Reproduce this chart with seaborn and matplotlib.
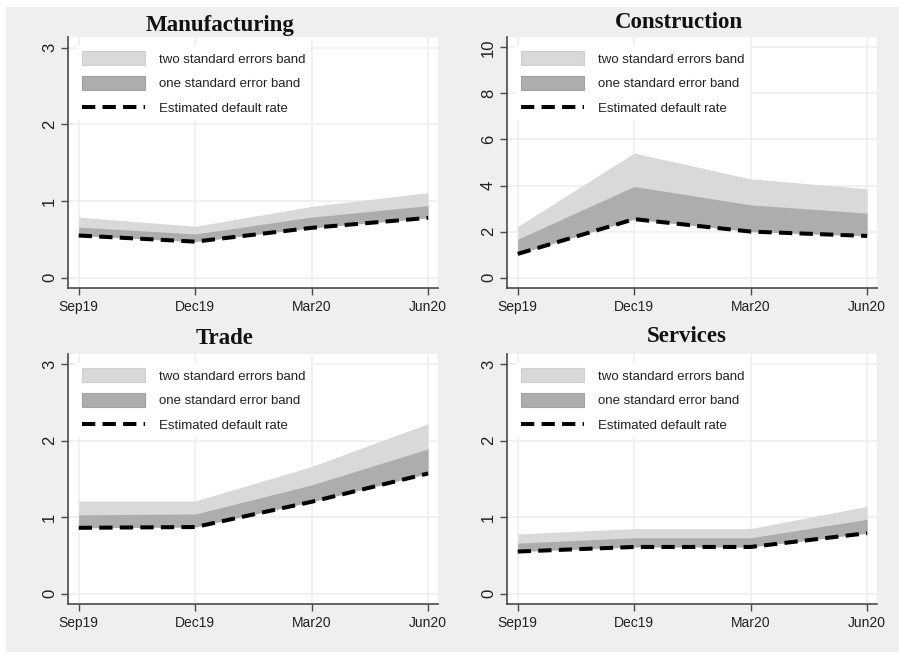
import numpy as np
import pandas as pd
import matplotlib
matplotlib.use("Agg")
import matplotlib.pyplot as plt
from matplotlib.patches import Patch, Rectangle
from matplotlib.lines import Line2D
import seaborn as sns

# Quarters on the horizontal axis
quarters = ["Sep19", "Dec19", "Mar20", "Jun20"]

# Estimated default rates (%) and upper edges of the error bands
manufacturing_est = [0.55, 0.47, 0.65, 0.78]
manufacturing_one_se = [0.66, 0.57, 0.79, 0.94]
manufacturing_two_se = [0.79, 0.67, 0.93, 1.11]

construction_est = [1.03, 2.54, 2.00, 1.81]
construction_one_se = [1.67, 3.96, 3.16, 2.80]
construction_two_se = [2.22, 5.41, 4.29, 3.86]

trade_est = [0.86, 0.87, 1.20, 1.57]
trade_one_se = [1.03, 1.04, 1.42, 1.89]
trade_two_se = [1.21, 1.21, 1.66, 2.22]

services_est = [0.55, 0.61, 0.61, 0.79]
services_one_se = [0.66, 0.73, 0.73, 0.97]
services_two_se = [0.78, 0.85, 0.85, 1.14]

sectors = ["Manufacturing", "Construction", "Trade", "Services"]
legend_labels = ["two standard errors band", "one standard error band",
                 "Estimated default rate"]

panels = {
    "Manufacturing": (manufacturing_est, manufacturing_one_se, manufacturing_two_se),
    "Construction": (construction_est, construction_one_se, construction_two_se),
    "Trade": (trade_est, trade_one_se, trade_two_se),
    "Services": (services_est, services_one_se, services_two_se),
}

sns.set_theme(style="whitegrid")
plt.rcParams["font.family"] = ["Liberation Sans", "DejaVu Sans"]

W, H = 899, 654
fig = plt.figure(figsize=(W / 100, H / 100), dpi=100, facecolor="white")

# light grey graph region
fig.add_artist(Rectangle((6 / W, 2 / H), 1 - 6 / W, 1 - 9 / H, transform=fig.transFigure,
                         facecolor="#efefef", edgecolor="none", zorder=0))

LIGHT = "#d9d9d9"
DARK = "#adadad"
SPINE = "#4a4a4a"
GRID = "#ededed"

# axes boxes in pixels: left, top, right, bottom
boxes = {
    "Manufacturing": (68, 37, 438, 288),
    "Construction": (507, 37, 877, 288),
    "Trade": (68, 354, 438, 604),
    "Services": (507, 354, 877, 604),
}
titles_pos = {
    "Manufacturing": (220, 30.5),
    "Construction": (679, 28),
    "Trade": (225, 344),
    "Services": (687, 342.5),
}
ylims = {
    "Manufacturing": ((-0.135, 3.14), [0, 1, 2, 3]),
    "Construction": ((-0.45, 10.45), [0, 2, 4, 6, 8, 10]),
    "Trade": ((-0.135, 3.13), [0, 1, 2, 3]),
    "Services": ((-0.135, 3.13), [0, 1, 2, 3]),
}

x = np.arange(len(quarters))
FS = 9.5

for name in sectors:
    est, one, two = panels[name]
    l, t, r, b = boxes[name]
    ax = fig.add_axes([l / W, 1 - b / H, (r - l) / W, (b - t) / H], zorder=2)
    ax.set_facecolor("white")

    df = pd.DataFrame({"quarter": x, "rate": est})
    ax.fill_between(x, est, two, color=LIGHT, linewidth=0, zorder=2)
    ax.fill_between(x, est, one, color=DARK, linewidth=0, zorder=3)
    sns.lineplot(data=df, x="quarter", y="rate", ax=ax, color="black",
                 linewidth=2.9, linestyle=(0, (3.3, 1.8)), zorder=4,
                 legend=False)

    (y0, y1), yt = ylims[name]
    ax.set_xlim(-0.092, 3.085)
    ax.set_ylim(y0, y1)
    ax.set_xticks(x)
    ax.set_xticklabels(quarters)
    ax.set_yticks(yt)
    ax.set_yticklabels([str(v) for v in yt], rotation=90, va="center")
    ax.set_xlabel("")
    ax.set_ylabel("")

    ax.grid(True, color=GRID, linewidth=1.1, zorder=0)
    ax.set_axisbelow(True)
    for s in ["top", "right"]:
        ax.spines[s].set_visible(False)
    for s in ["left", "bottom"]:
        ax.spines[s].set_visible(True)
        ax.spines[s].set_color(SPINE)
        ax.spines[s].set_linewidth(1.2)
    ax.tick_params(axis="both", which="major", direction="out", length=5,
                   width=1.0, color=SPINE, labelcolor="#222222",
                   left=True, bottom=True)
    ax.tick_params(axis="x", pad=3.5, labelsize=10)
    ax.tick_params(axis="y", pad=3.0, labelsize=12)

    handles = [
        Patch(facecolor=LIGHT, edgecolor="#cfcfcf", linewidth=0.8),
        Patch(facecolor=DARK, edgecolor="#a2a2a2", linewidth=0.8),
        Line2D([0], [0], color="black", linewidth=2.9, linestyle=(0, (3.3, 1.8))),
    ]
    leg = ax.legend(handles, legend_labels, loc="upper left",
                    bbox_to_anchor=(0.024, 0.964), borderaxespad=0,
                    fontsize=FS, frameon=True, fancybox=False, framealpha=1,
                    facecolor="white", edgecolor="none", handlelength=4.8,
                    handleheight=1.21, labelspacing=0.8, handletextpad=1.06,
                    borderpad=0.4)
    for txt in leg.get_texts():
        txt.set_color("#222222")
    leg.set_zorder(5)

    tx, ty = titles_pos[name]
    fig.text(tx / W, 1 - ty / H, name, ha="center", va="baseline",
             fontsize=16.5, fontweight="bold", family=["Liberation Serif", "DejaVu Serif"],
             color="#111111", zorder=3)

fig.savefig("out.png", dpi=100, facecolor="white")
